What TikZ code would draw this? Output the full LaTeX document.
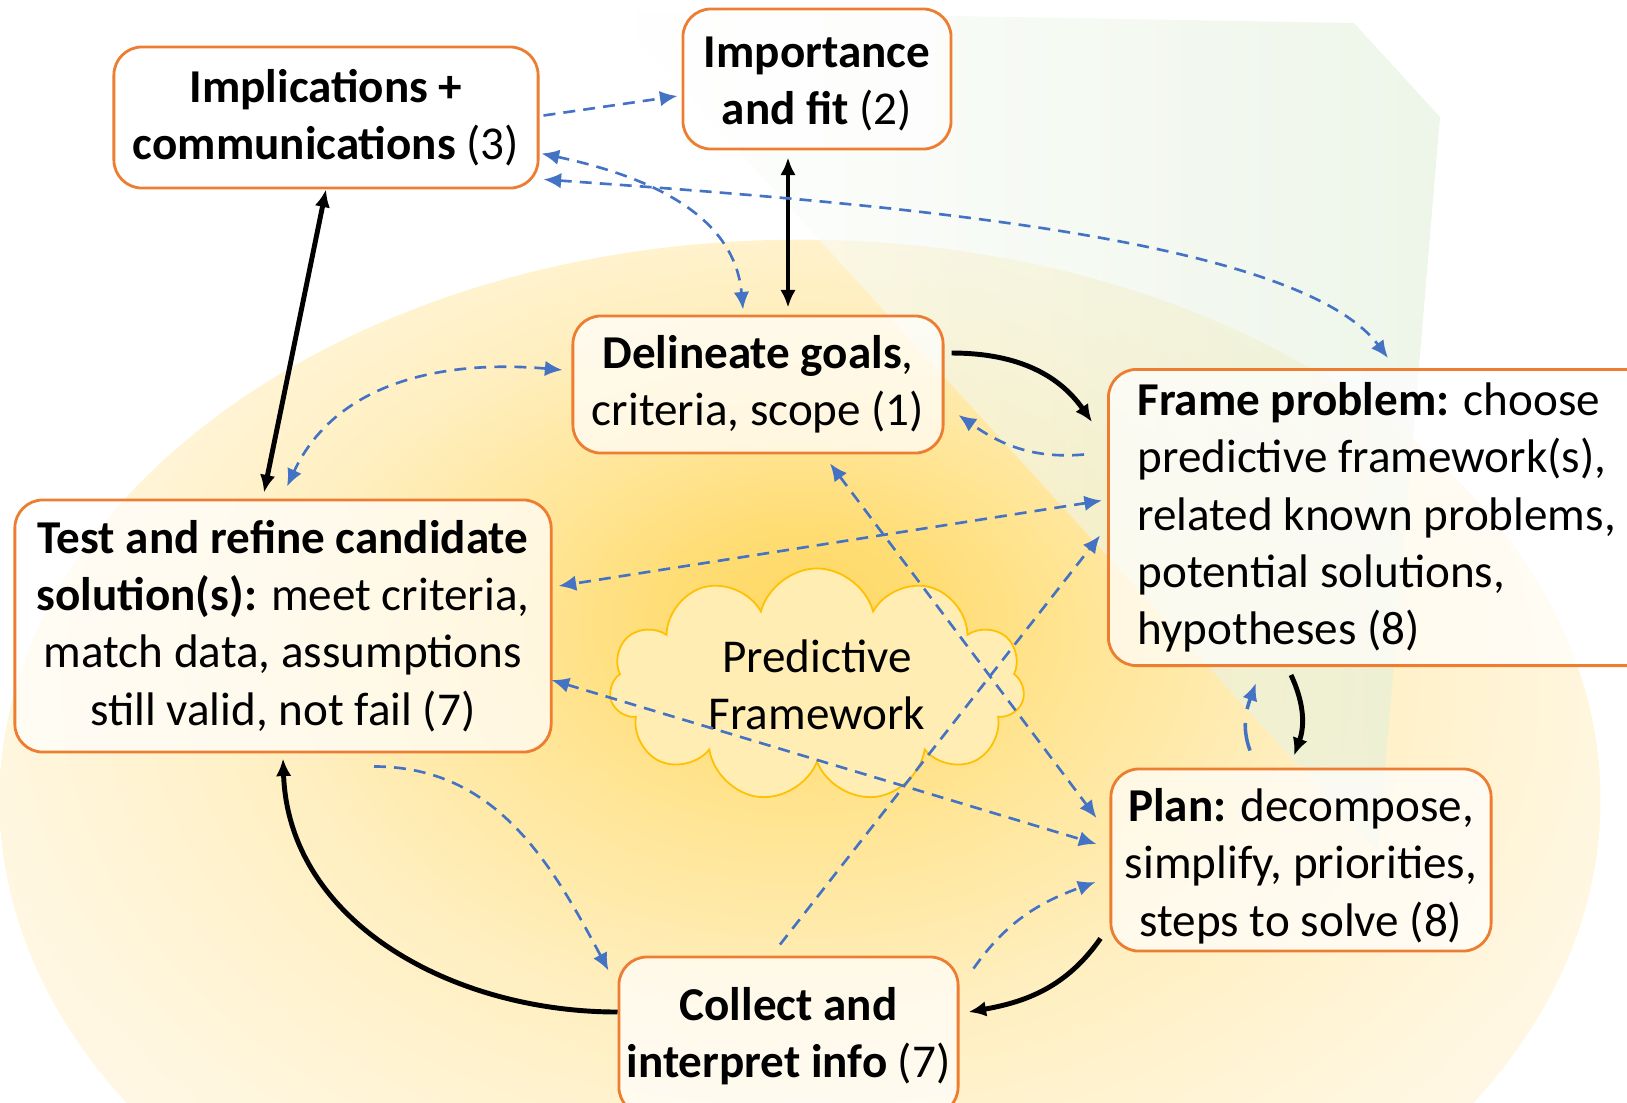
\documentclass[tikz,border=0pt]{standalone}
\usepackage{fontspec}
\setmainfont{Carlito}
\usetikzlibrary{shapes.symbols,arrows.meta,calc}
\definecolor{boxline}{HTML}{ED7D31}
\definecolor{linkblue}{HTML}{4472C4}
\definecolor{cloudfill}{HTML}{FFEDB3}
\definecolor{cloudline}{HTML}{FFC000}
\definecolor{glowa}{HTML}{FFD966}
\definecolor{glowb}{HTML}{FFDD75}
\definecolor{glowc}{HTML}{FFE596}
\definecolor{glowd}{HTML}{FFEFC0}
\definecolor{glowe}{HTML}{FFF6DF}
\definecolor{glowf}{HTML}{FFFBF0}
\definecolor{wedge}{HTML}{E2EFDA}
\pgfdeclareradialshading{glow}{\pgfpoint{0bp}{9bp}}{color(0bp)=(glowa); color(4bp)=(glowb); color(9bp)=(glowc); color(16bp)=(glowd); color(25bp)=(glowe); color(34bp)=(glowf); color(50bp)=(glowf)}
\tikzstyle{stage box}=[draw=boxline, line width=0.8pt, rounded corners=8pt, fill=white, fill opacity=.7, text opacity=1, align=center, inner sep=2pt, font=\fontsize{13.4}{16.3}\selectfont]
\tikzstyle{flow}=[line width=1.4pt, black]
\tikzstyle{link}=[line width=0.75pt, linkblue, dash pattern=on 3.4pt off 2.3pt]

\begin{document}
\begin{tikzpicture}[x=0.01cm,y=0.01cm,>={Latex[length=5pt,width=4.4pt]}]
    \useasboundingbox (0,0) rectangle (1627,-1102);

    % Background
    \shade[shading=glow] (800,-800) ellipse [x radius=8cm, y radius=5.6cm];
    \shade[left color=white, right color=wedge, opacity=.6] (610,-10) -- (1354,-23) -- (1440,-117) -- (1378,-853) -- cycle;

    % Cloud
    \draw (817,-685) node[cloud, cloud puffs=11, cloud ignores aspect, draw=cloudline, fill=cloudfill, line width=0.5pt, minimum width=4.15cm, minimum height=2.33cm, align=center, font=\fontsize{13.4}{16.3}\selectfont] (pf) {Predictive\\Framework};

    % Stages
    \draw (326,-117.5) node[stage box, minimum width=4.24cm, minimum height=1.41cm] (impl) {\textbf{Implications +}\\\textbf{communications} (3)};
    \draw (817,-79) node[stage box, minimum width=2.68cm, minimum height=1.40cm] (imp) {\rule{0pt}{11.6pt}\textbf{Importance}\\\textbf{and fit} (2)};
    \draw (758,-384.5) node[stage box, minimum width=3.70cm, minimum height=1.37cm] (del) {\textbf{Delineate goals},\\criteria, scope (1)};
    \draw (1107,-368) node[stage box, anchor=north west, align=flush left, text width=5cm, inner xsep=0.29cm, minimum height=2.96cm] (frame) {\textbf{Frame problem:} choose\\predictive framework(s),\\related known problems,\\potential solutions,\\hypotheses (8)};
    \draw (283,-626) node[stage box, minimum width=5.36cm, minimum height=2.52cm] (test) {\textbf{Test and refine candidate}\\\textbf{solution(s):} meet criteria,\\match data, assumptions\\still valid, not fail (7)};
    \draw (1301,-860) node[stage box, minimum width=3.80cm, minimum height=1.82cm] (plan) {\rule{0pt}{12.8pt}\textbf{Plan:} decompose,\\simplify, priorities,\\steps to solve (8)};
    \draw (788.5,-1036) node[stage box, minimum width=3.39cm, minimum height=1.58cm] (coll) {\textbf{Collect and}\\\textbf{interpret info} (7)};

    % Main cycle
    \draw[flow,<->] (impl.south) -- ($(test.north)+(-19,6)$);
    \draw[flow,<->] ($(imp.south)+(-29,-7)$) -- ($(del.north)+(30,7)$);
    \draw[flow,->] ($(del.east)+(7,31.5)$) to[out=0,in=125] ($(frame.north west)+(-15,-54)$);
    \draw[flow,->] ($(frame.south west)+(184,-8)$) to[out=-65,in=70] ($(plan.north)+(-7,12)$);
    \draw[flow,->] ($(plan.south west)+(-9,14)$) to[out=-125,in=10] ($(coll.east)+(9,24)$);
    \draw[flow,->] ($(coll.west)+(0,24)$) to[out=180,in=-88] ($(test.south)+(0,-5)$);

    % Feedback links
    \draw[link,->] ($(impl.east)+(4,2)$) -- ($(imp.west)+(-4,-17)$);
    \draw[link,<->] ($(impl.east)+(2,-36)$) to[out=-12,in=95] ($(del.north)+(-15,5)$);
    \draw[link,<->] ($(impl.south east)+(4,10)$) to[out=-4,in=127,in looseness=.45] ($(frame.north west)+(281,10)$);
    \draw[link,<->] ($(del.west)+(-9,14.5)$) to[out=175,in=65] ($(test.north)+(4,12)$);
    \draw[link,->] ($(frame.west)+(-23,63)$) to[out=185,in=-35] ($(del.east)+(14,-30.5)$);
    \draw[link,<->] ($(frame.west)+(-5,17)$) -- ($(test.east)+(6,40)$);
    \draw[link,->] ($(coll.north)+(-8.5,11)$) -- ($(frame.west)+(-7,-18)$);
    \draw[link,<->] ($(del.south)+(72,-9)$) -- ($(plan.west)+(-13,42)$);
    \draw[link,<->] ($(test.east)+(-1,-54)$) -- ($(plan.west)+(-13,16)$);
    \draw[link,->] ($(test.south)+(91,-13)$) to[out=0,in=118] ($(coll.north west)+(-9,-15)$);
    \draw[link,->] ($(coll.north east)+(14,-13)$) to[out=55,in=200] ($(plan.west)+(-14,-22)$);
    \draw[link,->,line width=1pt,dash pattern=on 8pt off 4pt] ($(plan.north)+(-51,17)$) to[out=110,in=-110] ($(frame.south west)+(149,-16)$);

\end{tikzpicture}
\end{document}
